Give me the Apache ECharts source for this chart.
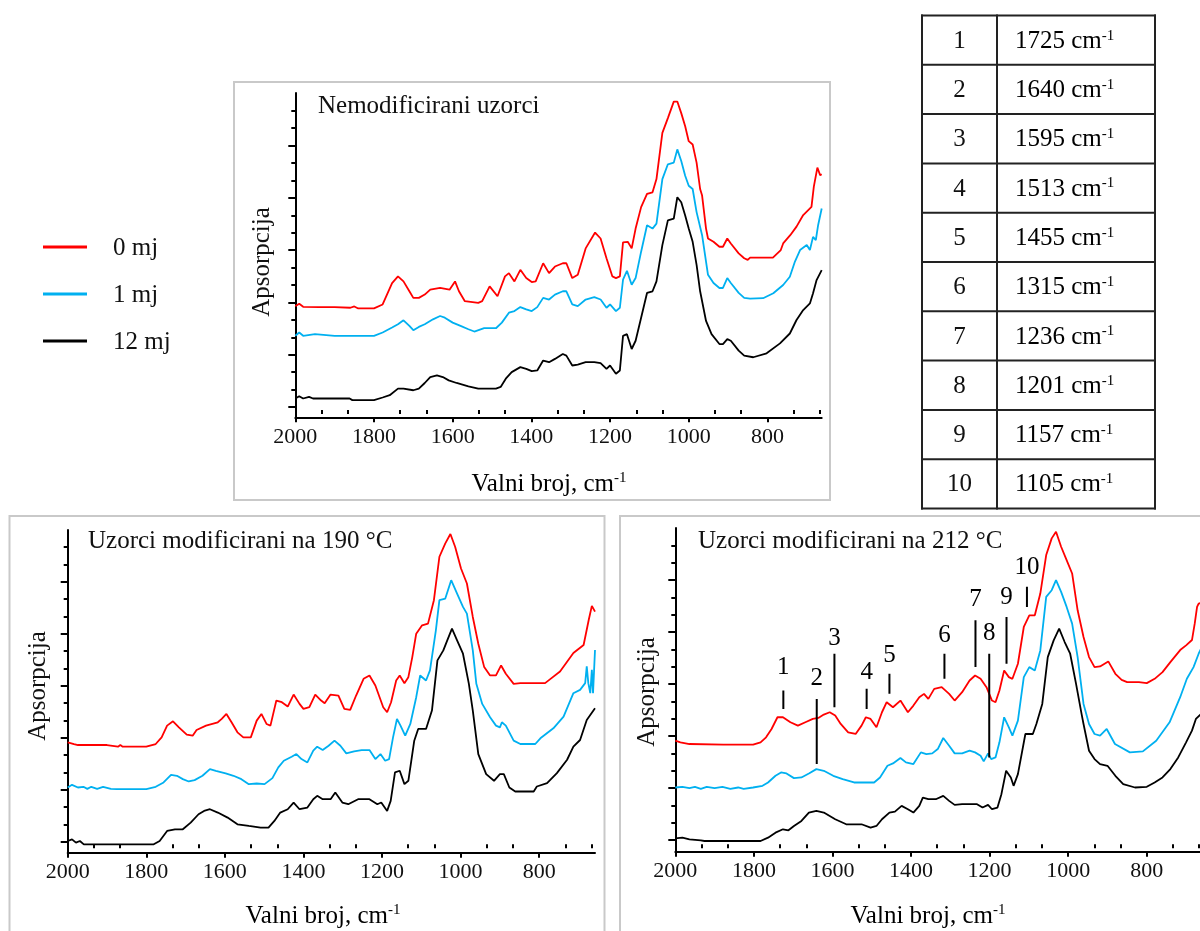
<!DOCTYPE html>
<html><head><meta charset="utf-8">
<script src="https://cdn.jsdelivr.net/npm/echarts@6/dist/echarts.min.js"></script>
<style>html,body{margin:0;padding:0;background:#fff}#c{width:1200px;height:931px}</style>
</head><body><div id="c"></div>
<script>
// ---------- data ----------
const seriesNames = ['0 mj', '1 mj', '12 mj'];
const panelTitles = ['Nemodificirani uzorci', 'Uzorci modificirani na 190 °C', 'Uzorci modificirani na 212 °C'];
const xTickLabels = [2000, 1800, 1600, 1400, 1200, 1000, 800];
const peakNumbers = [1, 2, 3, 4, 5, 6, 7, 8, 9, 10];
const peakWavenumbers = [1725, 1640, 1595, 1513, 1455, 1315, 1236, 1201, 1157, 1105];
const peakLineBottom = [4.05, 2.40, 4.10, 4.05, 4.50, 4.95, 5.30, 2.60, 5.40, 7.10];
const peakLineTop = [4.60, 4.35, 5.70, 4.65, 5.10, 5.70, 6.70, 5.70, 6.80, 7.70];
const peakLabelY = [5.30, 4.95, 6.15, 5.15, 5.65, 6.25, 7.32, 6.32, 7.38, 8.28];

// Panel 1: Nemodificirani uzorci
const p1_0mj = [[2000,3.15],[1990,3.22],[1980,3.13],[1940,3.12],[1900,3.12],[1860,3.10],[1850,3.14],[1840,3.08],[1800,3.08],[1778,3.20],[1754,3.85],[1739,4.05],[1725,3.90],[1710,3.60],[1700,3.40],[1686,3.40],[1671,3.50],[1657,3.65],[1632,3.70],[1608,3.65],[1594,3.90],[1584,3.60],[1569,3.30],[1535,3.25],[1525,3.30],[1506,3.75],[1486,3.45],[1467,4.05],[1457,4.15],[1443,3.90],[1428,4.25],[1413,4.00],[1399,3.88],[1389,3.90],[1370,4.45],[1355,4.15],[1340,4.35],[1320,4.45],[1311,4.45],[1296,4.00],[1282,4.10],[1262,4.90],[1238,5.38],[1224,5.20],[1209,4.60],[1194,4.05],[1185,4.00],[1175,4.05],[1167,5.08],[1155,5.10],[1145,4.90],[1135,5.50],[1121,6.15],[1106,6.55],[1092,6.60],[1082,7.00],[1067,8.40],[1053,8.85],[1038,9.35],[1029,9.35],[1019,9.00],[1009,8.60],[1000,8.15],[990,8.05],[980,7.50],[971,6.70],[966,6.50],[956,5.50],[951,5.20],[937,5.10],[922,4.95],[913,4.95],[902,5.20],[893,5.05],[873,4.75],[859,4.60],[850,4.55],[844,4.62],[786,4.62],[766,4.85],[760,5.05],[742,5.30],[726,5.56],[709,5.91],[688,6.16],[682,6.77],[673,7.35],[666,7.12],[662,7.15]];
const p1_1mj = [[2000,2.25],[1990,2.35],[1980,2.25],[1950,2.30],[1945,2.25],[1900,2.25],[1800,2.25],[1778,2.35],[1754,2.50],[1739,2.60],[1725,2.72],[1710,2.55],[1700,2.42],[1686,2.52],[1671,2.60],[1650,2.75],[1632,2.85],[1620,2.80],[1600,2.65],[1580,2.55],[1560,2.45],[1545,2.38],[1520,2.48],[1490,2.48],[1475,2.65],[1457,2.95],[1443,3.00],[1428,3.12],[1413,3.05],[1399,3.00],[1385,3.12],[1370,3.40],[1355,3.35],[1340,3.50],[1320,3.60],[1311,3.60],[1296,3.20],[1282,3.15],[1262,3.35],[1240,3.42],[1224,3.35],[1209,3.10],[1200,3.20],[1185,3.00],[1175,3.10],[1167,3.95],[1157,4.22],[1145,3.80],[1135,4.00],[1121,4.80],[1106,5.60],[1092,5.50],[1082,5.65],[1067,7.00],[1053,7.45],[1038,7.50],[1029,7.90],[1019,7.55],[1009,7.10],[1000,6.80],[990,6.70],[980,6.00],[966,5.30],[951,4.10],[937,3.85],[922,3.70],[913,3.70],[902,4.00],[893,3.85],[873,3.55],[859,3.40],[844,3.38],[811,3.39],[785,3.54],[760,3.79],[743,4.04],[730,4.50],[717,4.85],[700,5.00],[692,4.85],[684,5.25],[677,5.15],[671,5.61],[662,6.11]];
const p1_12mj = [[2000,0.35],[1990,0.42],[1980,0.35],[1965,0.40],[1955,0.35],[1900,0.35],[1862,0.35],[1855,0.30],[1800,0.30],[1778,0.38],[1760,0.45],[1739,0.65],[1725,0.65],[1700,0.60],[1686,0.65],[1671,0.82],[1657,1.00],[1640,1.05],[1625,1.00],[1610,0.90],[1590,0.82],[1560,0.72],[1535,0.65],[1490,0.65],[1478,0.70],[1465,0.95],[1450,1.15],[1428,1.30],[1413,1.25],[1399,1.18],[1385,1.20],[1370,1.50],[1355,1.45],[1340,1.55],[1320,1.70],[1311,1.65],[1296,1.35],[1282,1.38],[1262,1.45],[1240,1.45],[1224,1.42],[1209,1.25],[1200,1.35],[1185,1.10],[1175,1.20],[1167,2.25],[1157,2.30],[1145,1.85],[1135,2.10],[1121,2.80],[1106,3.55],[1092,3.60],[1082,3.90],[1067,5.00],[1053,5.75],[1038,5.80],[1029,6.45],[1019,6.30],[1009,5.90],[1000,5.50],[990,5.10],[980,4.40],[971,3.60],[956,2.70],[942,2.30],[922,2.00],[913,2.00],[902,2.15],[893,2.10],[873,1.80],[859,1.65],[836,1.60],[802,1.72],[768,2.02],[743,2.32],[726,2.73],[709,3.03],[692,3.23],[684,3.54],[675,3.94],[662,4.24]];

// Panel 2: 190 °C
const p2_0mj = [[2000,3.05],[1984,3.00],[1974,2.97],[1900,2.97],[1872,2.92],[1866,2.97],[1860,2.92],[1800,2.92],[1776,3.00],[1761,3.20],[1747,3.55],[1732,3.68],[1717,3.50],[1697,3.28],[1682,3.25],[1672,3.42],[1648,3.55],[1618,3.65],[1608,3.75],[1596,3.90],[1583,3.65],[1568,3.35],[1553,3.20],[1534,3.20],[1519,3.70],[1507,3.90],[1494,3.60],[1484,3.55],[1469,4.30],[1455,4.25],[1440,4.12],[1425,4.48],[1410,4.20],[1400,4.05],[1385,4.10],[1370,4.48],[1355,4.30],[1346,4.22],[1331,4.48],[1311,4.45],[1296,4.05],[1281,4.02],[1266,4.45],[1247,4.95],[1232,5.05],[1217,4.75],[1197,4.10],[1187,3.95],[1177,4.25],[1164,4.90],[1155,5.05],[1143,4.82],[1133,5.00],[1123,5.60],[1113,6.30],[1098,6.55],[1083,6.60],[1068,7.30],[1054,8.60],[1039,9.00],[1026,9.28],[1014,8.90],[999,8.25],[984,7.80],[969,6.80],[955,6.00],[940,5.30],[925,5.05],[910,5.05],[897,5.35],[885,5.10],[865,4.80],[848,4.82],[785,4.82],[772,4.94],[747,5.17],[713,5.72],[687,5.96],[674,6.71],[666,7.13],[658,6.96]];
const p2_1mj = [[2000,1.70],[1989,1.78],[1974,1.70],[1960,1.72],[1950,1.66],[1940,1.72],[1925,1.66],[1910,1.72],[1890,1.66],[1875,1.65],[1800,1.65],[1776,1.72],[1756,1.85],[1737,2.08],[1722,2.05],[1707,1.95],[1692,1.88],[1677,1.92],[1657,2.05],[1638,2.25],[1623,2.20],[1598,2.12],[1578,2.05],[1558,1.95],[1539,1.80],[1519,1.82],[1499,1.80],[1479,1.98],[1464,2.30],[1450,2.50],[1430,2.62],[1418,2.70],[1405,2.55],[1390,2.45],[1375,2.80],[1365,2.92],[1351,2.82],[1336,2.95],[1321,3.10],[1306,2.95],[1291,2.72],[1271,2.78],[1252,2.82],[1232,2.82],[1217,2.55],[1204,2.70],[1192,2.50],[1182,2.55],[1172,3.20],[1162,3.75],[1153,3.55],[1141,3.25],[1128,3.60],[1113,4.40],[1103,5.05],[1088,4.90],[1078,5.20],[1063,6.40],[1054,7.30],[1039,7.35],[1024,7.90],[1009,7.50],[994,7.10],[984,6.90],[969,5.80],[960,4.80],[945,4.20],[925,3.80],[910,3.55],[900,3.50],[895,3.65],[885,3.55],[865,3.10],[848,3.00],[810,3.00],[797,3.17],[764,3.47],[738,3.82],[713,4.52],[696,4.62],[683,4.82],[679,5.32],[675,4.82],[670,4.52],[666,5.22],[663,4.52],[658,5.81]];
const p2_12mj = [[2000,0.10],[1989,0.15],[1979,0.05],[1969,0.10],[1959,0.00],[1875,0.00],[1781,0.00],[1766,0.10],[1747,0.40],[1727,0.45],[1707,0.45],[1687,0.65],[1667,0.90],[1653,1.00],[1638,1.05],[1618,0.95],[1593,0.80],[1568,0.60],[1539,0.55],[1509,0.50],[1489,0.50],[1474,0.70],[1459,0.95],[1440,1.05],[1425,1.25],[1410,1.05],[1390,1.10],[1375,1.35],[1365,1.45],[1351,1.35],[1331,1.35],[1319,1.55],[1301,1.25],[1286,1.20],[1261,1.35],[1232,1.35],[1212,1.20],[1202,1.25],[1187,1.00],[1178,1.30],[1167,2.15],[1155,2.20],[1143,1.80],[1133,1.90],[1118,3.10],[1108,3.45],[1088,3.45],[1073,4.00],[1059,5.50],[1044,5.80],[1034,6.10],[1022,6.45],[1009,6.10],[994,5.70],[979,4.80],[969,4.00],[955,2.70],[935,2.10],[915,1.90],[900,2.10],[890,2.10],[876,1.70],[861,1.58],[814,1.58],[806,1.73],[780,1.83],[755,2.13],[729,2.53],[713,2.92],[696,3.12],[679,3.72],[658,4.07]];

// Panel 3: 212 °C
const p3_0mj = [[2000,3.10],[1987,3.05],[1964,3.00],[1878,2.98],[1802,2.98],[1783,3.05],[1769,3.20],[1755,3.45],[1740,3.80],[1726,3.80],[1707,3.65],[1688,3.55],[1669,3.65],[1650,3.75],[1636,3.78],[1622,3.88],[1607,3.95],[1593,3.85],[1579,3.60],[1560,3.35],[1541,3.30],[1526,3.55],[1515,3.80],[1503,3.75],[1488,3.50],[1474,3.95],[1462,4.25],[1446,4.10],[1427,4.30],[1408,3.95],[1394,4.15],[1379,4.40],[1367,4.50],[1356,4.35],[1341,4.65],[1322,4.70],[1303,4.50],[1289,4.30],[1270,4.55],[1251,4.90],[1237,5.05],[1223,4.95],[1208,4.70],[1194,4.30],[1185,4.25],[1175,4.60],[1163,5.20],[1151,5.00],[1142,4.95],[1128,5.40],[1113,6.50],[1099,6.85],[1085,6.85],[1071,7.50],[1056,8.65],[1042,9.15],[1031,9.35],[1018,8.90],[1004,8.50],[990,8.10],[976,7.00],[961,6.20],[947,5.60],[933,5.30],[919,5.32],[898,5.47],[880,5.10],[864,4.92],[850,4.85],[820,4.85],[800,4.82],[780,4.95],[760,5.15],[740,5.45],[715,5.81],[700,5.95],[685,6.11],[678,6.60],[672,7.10],[668,7.20],[662,7.22]];
const p3_1mj = [[2000,1.70],[1982,1.72],[1964,1.68],[1950,1.72],[1935,1.66],[1920,1.72],[1900,1.68],[1880,1.72],[1860,1.66],[1840,1.70],[1826,1.66],[1802,1.70],[1778,1.75],[1764,1.85],[1745,2.05],[1731,2.15],[1717,2.12],[1698,1.98],[1679,2.00],[1660,2.12],[1641,2.25],[1622,2.20],[1598,2.05],[1574,1.95],[1545,1.85],[1517,1.85],[1494,1.85],[1479,2.00],[1460,2.35],[1446,2.42],[1427,2.58],[1413,2.45],[1394,2.40],[1375,2.75],[1361,2.70],[1346,2.72],[1332,2.85],[1318,3.18],[1303,2.95],[1289,2.72],[1270,2.72],[1251,2.80],[1237,2.75],[1223,2.65],[1215,2.48],[1204,2.72],[1196,2.55],[1185,2.60],[1175,3.05],[1163,3.80],[1151,3.50],[1142,3.25],[1128,3.70],[1113,5.00],[1099,5.30],[1085,5.20],[1071,5.80],[1056,7.40],[1042,7.60],[1031,7.90],[1018,7.55],[1004,7.10],[990,6.60],[976,5.60],[961,4.20],[947,3.60],[933,3.30],[919,3.25],[902,3.45],[881,3.00],[843,2.75],[810,2.78],[776,3.10],[742,3.65],[715,4.40],[698,4.95],[681,5.30],[668,5.70],[662,5.85]];
const p3_12mj = [[2000,0.18],[1982,0.20],[1964,0.15],[1935,0.12],[1926,0.10],[1783,0.10],[1764,0.20],[1745,0.35],[1726,0.45],[1712,0.42],[1698,0.55],[1679,0.70],[1660,0.95],[1641,1.00],[1622,0.95],[1593,0.75],[1565,0.60],[1526,0.60],[1503,0.50],[1488,0.55],[1474,0.75],[1455,0.95],[1441,0.98],[1424,1.15],[1408,1.05],[1394,0.95],[1379,1.15],[1370,1.40],[1356,1.35],[1337,1.35],[1318,1.45],[1303,1.30],[1289,1.18],[1270,1.20],[1232,1.20],[1218,1.10],[1204,1.18],[1194,1.05],[1180,1.10],[1170,1.50],[1158,2.20],[1146,2.00],[1139,1.75],[1128,2.10],[1109,3.30],[1090,3.30],[1081,3.60],[1066,4.20],[1052,5.60],[1037,6.10],[1023,6.45],[1009,6.05],[995,5.70],[980,4.80],[966,3.90],[961,3.60],[947,2.80],[933,2.55],[919,2.40],[900,2.35],[880,2.05],[860,1.80],[830,1.70],[800,1.72],[780,1.85],[760,2.00],[740,2.25],[720,2.60],[700,3.05],[685,3.40],[675,3.75],[662,3.90]];

// ---------- layout / style ----------
const FONT = 'Liberation Serif';
const TXT = '#111';
const colors = ['#ff0000', '#00b0f0', '#000000'];
const panels = [
  {grid:{left:295.3, top:93, width:526.4, height:324.3}, xMin:662, y:[-0.22, 9.61, 0.09, 1.585], data:[p1_0mj, p1_1mj, p1_12mj]},
  {grid:{left:67.7, top:530, width:527.3, height:322.7}, xMin:658, y:[-0.25, 9.40, 0.08, 1.555], data:[p2_0mj, p2_1mj, p2_12mj]},
  {grid:{left:675.3, top:528, width:525.7, height:323.7}, xMin:662, y:[-0.22, 9.46, 0.13, 1.555], data:[p3_0mj, p3_1mj, p3_12mj]}
];

const xMinor = [];
for (let k = 0; k < 7; k++) for (let j = 1; j <= 2; j++) xMinor.push(2000 - 200*k - j*200/3);

function yTicks(p) {
  const [mn, mx, m0, st] = p.y; const major = [], minor = [];
  for (let v = m0; v < mx - 0.1; v += st) {
    major.push(v);
    for (let j = 1; j <= 2; j++) { const w = v + j*st/3; if (w < mx - 0.05) minor.push(w); }
  }
  return {major, minor};
}

const axisLineStyle = {color:'#000', width:2};
const grid = [], xAxis = [], yAxis = [], series = [];
panels.forEach((p, i) => {
  grid.push(Object.assign({containLabel:false, outerBoundsMode:'none'}, p.grid));
  xAxis.push({gridIndex:i, type:'value', inverse:true, min:p.xMin, max:2000, position:'bottom',
    axisLine:{show:true, onZero:false, lineStyle:axisLineStyle},
    axisTick:{show:true, customValues:xTickLabels, length:5, lineStyle:axisLineStyle},
    axisLabel:{show:true, customValues:xTickLabels, formatter:v => String(v), color:TXT, fontFamily:FONT, fontSize:22, margin:9},
    splitLine:{show:false}});
  xAxis.push({gridIndex:i, type:'value', inverse:true, min:p.xMin, max:2000, position:'bottom', offset:0,
    axisLine:{show:false}, axisTick:{show:true, customValues:xMinor.filter(v => v > p.xMin), length:4, lineStyle:axisLineStyle},
    axisLabel:{show:false}, splitLine:{show:false}});
  const t = yTicks(p);
  yAxis.push({gridIndex:i, type:'value', min:p.y[0], max:p.y[1], position:'left',
    axisLine:{show:true, onZero:false, lineStyle:axisLineStyle},
    axisTick:{show:true, customValues:t.major, length:7, lineStyle:axisLineStyle},
    axisLabel:{show:false}, splitLine:{show:false}});
  yAxis.push({gridIndex:i, type:'value', min:p.y[0], max:p.y[1], position:'left', offset:0,
    axisLine:{show:false},
    axisTick:{show:true, customValues:t.minor, length:4, lineStyle:axisLineStyle},
    axisLabel:{show:false}, splitLine:{show:false}});
  p.data.forEach((d, s) => {
    series.push({type:'line', name:seriesNames[s], xAxisIndex:2*i, yAxisIndex:2*i, data:d,
      showSymbol:false, symbol:'none', smooth:false, clip:false,
      lineStyle:{color:colors[s], width:1.8}, itemStyle:{color:colors[s]}, z:3});
  });
});

// peak markers in panel 3
peakWavenumbers.forEach((w, k) => {
  series.push({type:'line', xAxisIndex:4, yAxisIndex:4, data:[[w, peakLineBottom[k]], [w, peakLineTop[k]]],
    showSymbol:false, symbol:'none', lineStyle:{color:'#000', width:2}, z:4});
});
series.push({type:'scatter', xAxisIndex:4, yAxisIndex:4, symbolSize:0,
  itemStyle:{opacity:1, color:'#000'},
  data: peakWavenumbers.map((w, k) => ({value:[w, peakLabelY[k]], name:String(peakNumbers[k])})),
  label:{show:true, position:'inside', formatter:'{b}', color:'#000', opacity:1, textBorderWidth:0, fontFamily:FONT, fontSize:25}, z:5});

// ---------- graphics: boxes, titles, axis names, legend, table ----------
const g = [];
const boxStyle = {fill:null, stroke:'#c9c9c9', lineWidth:2};
g.push({type:'rect', shape:{x:234, y:82, width:596, height:418}, style:boxStyle, silent:true});
g.push({type:'rect', shape:{x:9.5, y:516, width:595, height:440}, style:boxStyle, silent:true});
g.push({type:'rect', shape:{x:620, y:516, width:600, height:440}, style:boxStyle, silent:true});

const titlePos = [[318, 106], [88, 541], [698, 541]];
panelTitles.forEach((t, i) => g.push({type:'text', x:titlePos[i][0], y:titlePos[i][1],
  style:{text:t, fill:TXT, font:'25px "' + FONT + '"', textAlign:'left', textVerticalAlign:'middle'}}));

const yNamePos = [[262, 262], [38, 686], [647, 692]];
yNamePos.forEach(pp => g.push({type:'text', x:pp[0], y:pp[1], rotation:Math.PI/2,
  style:{text:'Apsorpcija', fill:TXT, font:'25px "' + FONT + '"', textAlign:'center', textVerticalAlign:'middle'}}));

const richSup = {
  a:{fontSize:25, fontFamily:FONT, color:TXT, lineHeight:26},
  s:{fontSize:15, fontFamily:FONT, color:TXT, lineHeight:15, verticalAlign:'top'}
};
const xNamePos = [[549, 484], [323, 916], [928, 916]];
xNamePos.forEach(pp => g.push({type:'text', x:pp[0], y:pp[1],
  style:{text:'{a|Valni broj, cm}{s|-1}', rich:richSup, textAlign:'center', textVerticalAlign:'middle'}}));

// legend
const legY = [247, 294, 341];
seriesNames.forEach((n, s) => {
  g.push({type:'line', shape:{x1:43, y1:legY[s], x2:87, y2:legY[s]}, style:{stroke:colors[s], lineWidth:3}});
  g.push({type:'text', x:113, y:legY[s] + 1, style:{text:n, fill:TXT, font:'25px "' + FONT + '"', textAlign:'left', textVerticalAlign:'middle'}});
});

// table
const tTop = 15.5, tRow = 49.3, tX = [922, 997, 1155];
const tableStyle = {stroke:'#222', lineWidth:2};
for (let r = 0; r <= peakNumbers.length; r++) {
  const y = tTop + r*tRow;
  g.push({type:'line', shape:{x1:tX[0]-1, y1:y, x2:tX[2]+1, y2:y}, style:tableStyle});
}
tX.forEach(x => g.push({type:'line', shape:{x1:x, y1:tTop-1, x2:x, y2:tTop + peakNumbers.length*tRow + 1}, style:tableStyle}));
const richTable = {
  a:{fontSize:25, fontFamily:FONT, color:TXT, lineHeight:26},
  s:{fontSize:15, fontFamily:FONT, color:TXT, lineHeight:15, verticalAlign:'top'}
};
peakNumbers.forEach((n, r) => {
  const cy = tTop + r*tRow + tRow/2 + 1;
  g.push({type:'text', x:959.5, y:cy, style:{text:String(n), fill:TXT, font:'25px "' + FONT + '"', textAlign:'center', textVerticalAlign:'middle'}});
  g.push({type:'text', x:1015, y:cy, style:{text:'{a|' + peakWavenumbers[r] + ' cm}{s|-1}', rich:richTable, textAlign:'left', textVerticalAlign:'middle'}});
});

const chart = echarts.init(document.getElementById('c'), null, {renderer:'canvas'});
chart.setOption({animation:false, backgroundColor:'#fff', grid, xAxis, yAxis, series, graphic:g});
</script></body></html>
